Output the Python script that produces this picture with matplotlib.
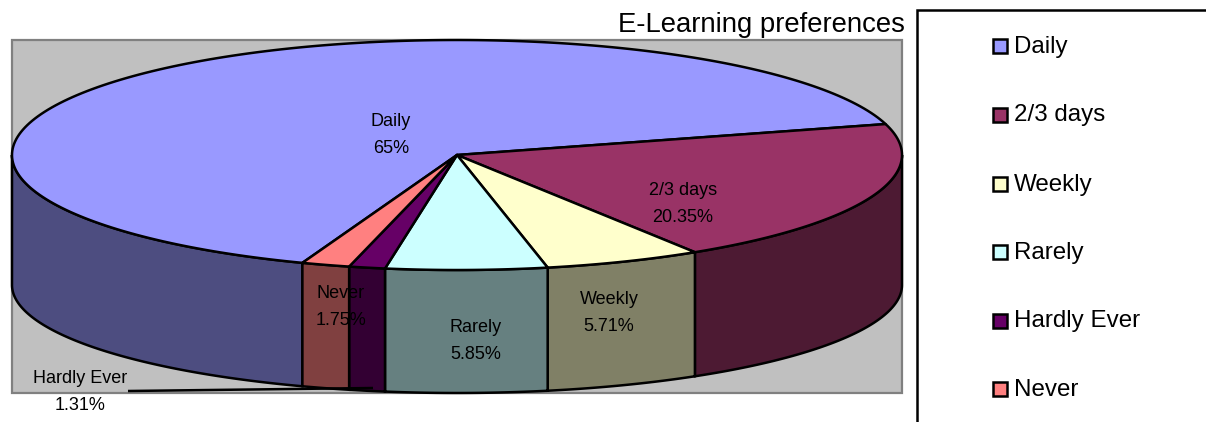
import matplotlib
matplotlib.use("Agg")
import matplotlib.pyplot as plt
from matplotlib.patches import Polygon, Rectangle
import numpy as np

categories = ["Daily", "2/3 days", "Weekly", "Rarely", "Hardly Ever", "Never"]
values = [65, 20.35, 5.71, 5.85, 1.31, 1.75]
title = "E-Learning preferences"

top_colors = ["#9999FF", "#993366", "#FFFFCC", "#CCFFFF", "#660066", "#FF8080"]
side_colors = ["#4D4D80", "#4D1A33", "#808066", "#668080", "#330033", "#804040"]

# pie geometry, in picture pixels
cx = 457
top_cy, top_b = 155, 115
bot_cy, bot_b = 285, 108
a = 445
end_of_daily = 15.6  # angle where the first slice ends, going clockwise

label_xy = [(391, 135), (683, 204), (609, 313), (476, 341), (80, 392), (341, 307)]
legend_y = [45, 114, 183, 251, 320, 388]

plt.rcParams['font.family'] = ['Liberation Sans', 'DejaVu Sans']

fig = plt.figure(figsize=(12.06, 4.22), dpi=100)
ax = fig.add_axes([0, 0, 1, 1])
ax.set_xlim(0, 1206)
ax.set_ylim(422, 0)
ax.axis('off')


def arc(t1, t2, cy, b):
    t = np.radians(np.linspace(t1, t2, 200))
    return np.column_stack([cx + a * np.cos(t), cy - b * np.sin(t)])


# plot area
ax.add_patch(Rectangle((12, 40), 890, 353, facecolor="#C0C0C0", edgecolor="#808080", lw=1.6))

# slice angles, clockwise from the start of the first slice
sweeps = np.array(values) / sum(values) * 360
starts = end_of_daily + sweeps[0] - np.concatenate([[0], np.cumsum(sweeps)[:-1]])
ends = starts - sweeps

# side walls, only the part facing us
for s, e, col in zip(starts, ends, side_colors):
    for lo, hi in [(180, 360), (-180, 0)]:
        t1, t2 = min(s, hi), max(e, lo)
        if t1 <= t2:
            continue
        pts = np.vstack([arc(t1, t2, top_cy, top_b), arc(t2, t1, bot_cy, bot_b)])
        ax.add_patch(Polygon(pts, closed=True, facecolor=col, edgecolor="black", lw=1.8))

# top of the pie
for s, e, col in zip(starts, ends, top_colors):
    pts = np.vstack([[cx, top_cy], arc(s, e, top_cy, top_b)])
    ax.add_patch(Polygon(pts, closed=True, facecolor=col, edgecolor="black", lw=1.8,
                         joinstyle='round'))

# leader line of Hardly Ever
ax.plot([128, 373], [391, 388], color="black", lw=1.8, solid_capstyle='butt')

# data labels
for name, val, (x, y) in zip(categories, values, label_xy):
    ax.text(x, y, f"{name}\n{val:g}%", ha='center', va='center', fontsize=13,
            linespacing=1.75, color="black")

ax.text(905, 25, title, ha='right', va='center', fontsize=19.8, color="black")

# legend box runs off the picture on the right and at the bottom
ax.plot([917, 917, 1206], [422, 10, 10], color="black", lw=1.8, solid_joinstyle='miter')
for name, col, y in zip(categories, top_colors, legend_y):
    ax.add_patch(Rectangle((992.5, y - 6.5), 14, 14, facecolor=col, edgecolor="black", lw=1.8))
    ax.text(1014, y + 1.5, name, ha='left', va='center', fontsize=17.4, color="black")

fig.savefig("out.png", dpi=100)
